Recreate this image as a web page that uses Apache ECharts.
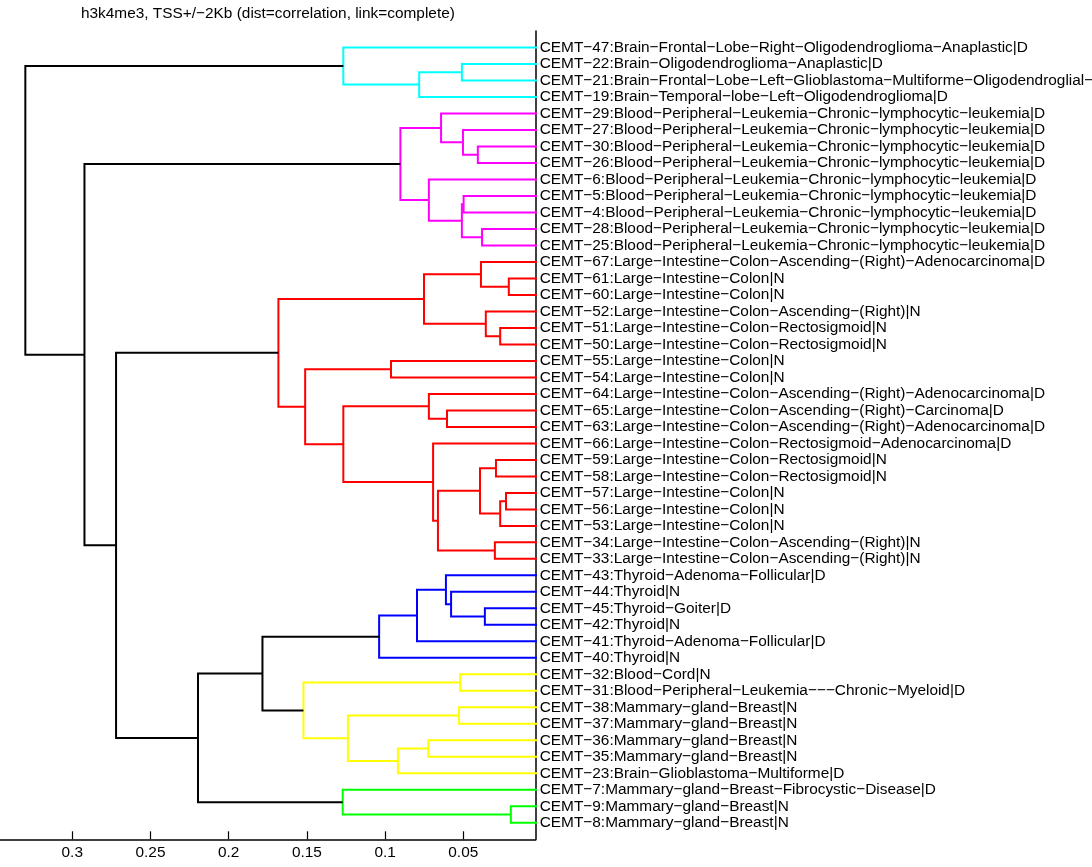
<!DOCTYPE html>
<html>
<head>
<meta charset="utf-8">
<script src="https://cdn.jsdelivr.net/npm/echarts@6/dist/echarts.min.js"></script>
<style>
html,body{margin:0;padding:0;background:#ffffff;}
#chart{width:1092px;height:867px;}
</style>
</head>
<body>
<div id="chart"></div>
<script>
// ---------- data ----------
const chartTitle = "h3k4me3, TSS+/−2Kb (dist=correlation, link=complete)";

// leaf labels, top to bottom (dendrogram order)
const leafLabels = [
  "CEMT−47:Brain−Frontal−Lobe−Right−Oligodendroglioma−Anaplastic|D",
  "CEMT−22:Brain−Oligodendroglioma−Anaplastic|D",
  "CEMT−21:Brain−Frontal−Lobe−Left−Glioblastoma−Multiforme−Oligodendroglial−Component|D",
  "CEMT−19:Brain−Temporal−lobe−Left−Oligodendroglioma|D",
  "CEMT−29:Blood−Peripheral−Leukemia−Chronic−lymphocytic−leukemia|D",
  "CEMT−27:Blood−Peripheral−Leukemia−Chronic−lymphocytic−leukemia|D",
  "CEMT−30:Blood−Peripheral−Leukemia−Chronic−lymphocytic−leukemia|D",
  "CEMT−26:Blood−Peripheral−Leukemia−Chronic−lymphocytic−leukemia|D",
  "CEMT−6:Blood−Peripheral−Leukemia−Chronic−lymphocytic−leukemia|D",
  "CEMT−5:Blood−Peripheral−Leukemia−Chronic−lymphocytic−leukemia|D",
  "CEMT−4:Blood−Peripheral−Leukemia−Chronic−lymphocytic−leukemia|D",
  "CEMT−28:Blood−Peripheral−Leukemia−Chronic−lymphocytic−leukemia|D",
  "CEMT−25:Blood−Peripheral−Leukemia−Chronic−lymphocytic−leukemia|D",
  "CEMT−67:Large−Intestine−Colon−Ascending−(Right)−Adenocarcinoma|D",
  "CEMT−61:Large−Intestine−Colon|N",
  "CEMT−60:Large−Intestine−Colon|N",
  "CEMT−52:Large−Intestine−Colon−Ascending−(Right)|N",
  "CEMT−51:Large−Intestine−Colon−Rectosigmoid|N",
  "CEMT−50:Large−Intestine−Colon−Rectosigmoid|N",
  "CEMT−55:Large−Intestine−Colon|N",
  "CEMT−54:Large−Intestine−Colon|N",
  "CEMT−64:Large−Intestine−Colon−Ascending−(Right)−Adenocarcinoma|D",
  "CEMT−65:Large−Intestine−Colon−Ascending−(Right)−Carcinoma|D",
  "CEMT−63:Large−Intestine−Colon−Ascending−(Right)−Adenocarcinoma|D",
  "CEMT−66:Large−Intestine−Colon−Rectosigmoid−Adenocarcinoma|D",
  "CEMT−59:Large−Intestine−Colon−Rectosigmoid|N",
  "CEMT−58:Large−Intestine−Colon−Rectosigmoid|N",
  "CEMT−57:Large−Intestine−Colon|N",
  "CEMT−56:Large−Intestine−Colon|N",
  "CEMT−53:Large−Intestine−Colon|N",
  "CEMT−34:Large−Intestine−Colon−Ascending−(Right)|N",
  "CEMT−33:Large−Intestine−Colon−Ascending−(Right)|N",
  "CEMT−43:Thyroid−Adenoma−Follicular|D",
  "CEMT−44:Thyroid|N",
  "CEMT−45:Thyroid−Goiter|D",
  "CEMT−42:Thyroid|N",
  "CEMT−41:Thyroid−Adenoma−Follicular|D",
  "CEMT−40:Thyroid|N",
  "CEMT−32:Blood−Cord|N",
  "CEMT−31:Blood−Peripheral−Leukemia−−−Chronic−Myeloid|D",
  "CEMT−38:Mammary−gland−Breast|N",
  "CEMT−37:Mammary−gland−Breast|N",
  "CEMT−36:Mammary−gland−Breast|N",
  "CEMT−35:Mammary−gland−Breast|N",
  "CEMT−23:Brain−Glioblastoma−Multiforme|D",
  "CEMT−7:Mammary−gland−Breast−Fibrocystic−Disease|D",
  "CEMT−9:Mammary−gland−Breast|N",
  "CEMT−8:Mammary−gland−Breast|N"
];

// merges (linkage): child A, child B, height.
// children 0..47 are leaves (by display row); 48+k is the node made in row k
const mergeA = [1, 48, 0, 6, 5, 4, 9, 11, 54, 8, 53, 14, 13, 17, 16, 60, 19, 22, 21, 25, 27, 68, 67, 30, 70, 24, 66, 64, 63, 34, 33, 32, 79, 80, 38, 40, 42, 84, 83, 82, 46, 45, 81, 90, 76, 58, 50];
const mergeB = [2, 3, 49, 7, 51, 52, 10, 12, 55, 56, 57, 15, 59, 18, 61, 62, 20, 23, 65, 26, 28, 29, 69, 31, 71, 72, 73, 74, 75, 35, 77, 78, 36, 37, 39, 41, 43, 44, 85, 86, 47, 88, 87, 89, 91, 92, 93];
const mergeHeight = [0.0509, 0.0782, 0.1267, 0.0407, 0.0502, 0.0642, 0.0498, 0.0380, 0.0509, 0.0720, 0.0902,
  0.0209, 0.0387, 0.0264, 0.0356, 0.0751, 0.0962, 0.0604, 0.0720, 0.0291, 0.0227, 0.0264, 0.0393, 0.0298,
  0.0662, 0.0693, 0.1267, 0.1511, 0.1682, 0.0362, 0.0578, 0.0611, 0.0796, 0.1038, 0.0520, 0.0527, 0.0724,
  0.0918, 0.1238, 0.1522, 0.0196, 0.1271, 0.1784, 0.2196, 0.2720, 0.2922, 0.3300];

const colorThreshold = 0.17;
const clusterColors = ["#00ffff", "#ff00ff", "#ff0000", "#0000ff", "#ffff00", "#00ff00"];
const xTickValues = [0.05, 0.1, 0.15, 0.2, 0.25, 0.3];

// ---------- build link geometry from the linkage ----------
const nLeaf = leafLabels.length;
const posY = [], posH = [], minLeaf = [];
for (let i = 0; i < nLeaf; i++) { posY[i] = i; posH[i] = 0; minLeaf[i] = i; }
const parentOf = {};
for (let k = 0; k < mergeA.length; k++) {
  const id = nLeaf + k, a = mergeA[k], b = mergeB[k];
  posY[id] = (posY[a] + posY[b]) / 2;
  posH[id] = mergeHeight[k];
  minLeaf[id] = Math.min(minLeaf[a], minLeaf[b]);
  parentOf[a] = id; parentOf[b] = id;
}
// cluster tops: below threshold, parent above
const tops = [];
for (let k = 0; k < mergeA.length; k++) {
  const id = nLeaf + k;
  if (posH[id] < colorThreshold && (parentOf[id] === undefined || posH[parentOf[id]] >= colorThreshold)) tops.push(id);
}
tops.sort((p, q) => minLeaf[p] - minLeaf[q]);
const nodeColor = {};
tops.forEach((t, ci) => {
  const stack = [t];
  while (stack.length) {
    const id = stack.pop();
    if (id < nLeaf) continue;
    nodeColor[id] = clusterColors[ci % clusterColors.length];
    stack.push(mergeA[id - nLeaf], mergeB[id - nLeaf]);
  }
});
const linkData = [];
for (let k = 0; k < mergeA.length; k++) {
  const id = nLeaf + k, a = mergeA[k], b = mergeB[k];
  linkData.push({
    coords: [[posH[a], posY[a]], [posH[id], posY[a]], [posH[id], posY[b]], [posH[b], posY[b]]],
    lineStyle: { color: nodeColor[id] || "#000000" }
  });
}
const leafTicks = leafLabels.map((_, i) => i);

// ---------- chart ----------
const chart = echarts.init(document.getElementById('chart'), null, { renderer: 'canvas' });
const font = "'Liberation Sans', Arial, Helvetica, sans-serif";
chart.setOption({
  backgroundColor: '#ffffff',
  animation: false,
  title: {
    text: chartTitle,
    left: 81, top: 6, padding: 0,
    textStyle: { fontFamily: font, fontSize: 15.4, fontWeight: 'normal', color: '#000' }
  },
  grid: { left: 0, right: 556.3, top: 31, bottom: 27.7, containLabel: false, outerBoundsMode: 'none' },
  xAxis: {
    type: 'value', inverse: true, min: 0.0037, max: 0.3462, position: 'bottom',
    splitLine: { show: false },
    axisLine: { show: true, onZero: false, lineStyle: { color: '#000', width: 1.5 } },
    axisTick: { show: true, inside: true, length: 8, customValues: xTickValues, lineStyle: { color: '#000', width: 1.2 } },
    axisLabel: { customValues: xTickValues, margin: 6, fontFamily: font, fontSize: 15.4, color: '#000',
      formatter: v => String(v) }
  },
  yAxis: {
    type: 'value', inverse: true, min: -1, max: nLeaf, position: 'right',
    splitLine: { show: false },
    axisLine: { show: true, onZero: false, lineStyle: { color: '#000', width: 1.5 } },
    axisTick: { show: false },
    axisLabel: { customValues: leafTicks, margin: 4, fontFamily: font, fontSize: 15.4, color: '#000',
      formatter: v => leafLabels[v] || '' }
  },
  series: [{
    type: 'lines',
    coordinateSystem: 'cartesian2d',
    polyline: true,
    clip: true,
    silent: true,
    lineStyle: { width: 2, opacity: 1 },
    data: linkData
  }]
});
</script>
</body>
</html>
